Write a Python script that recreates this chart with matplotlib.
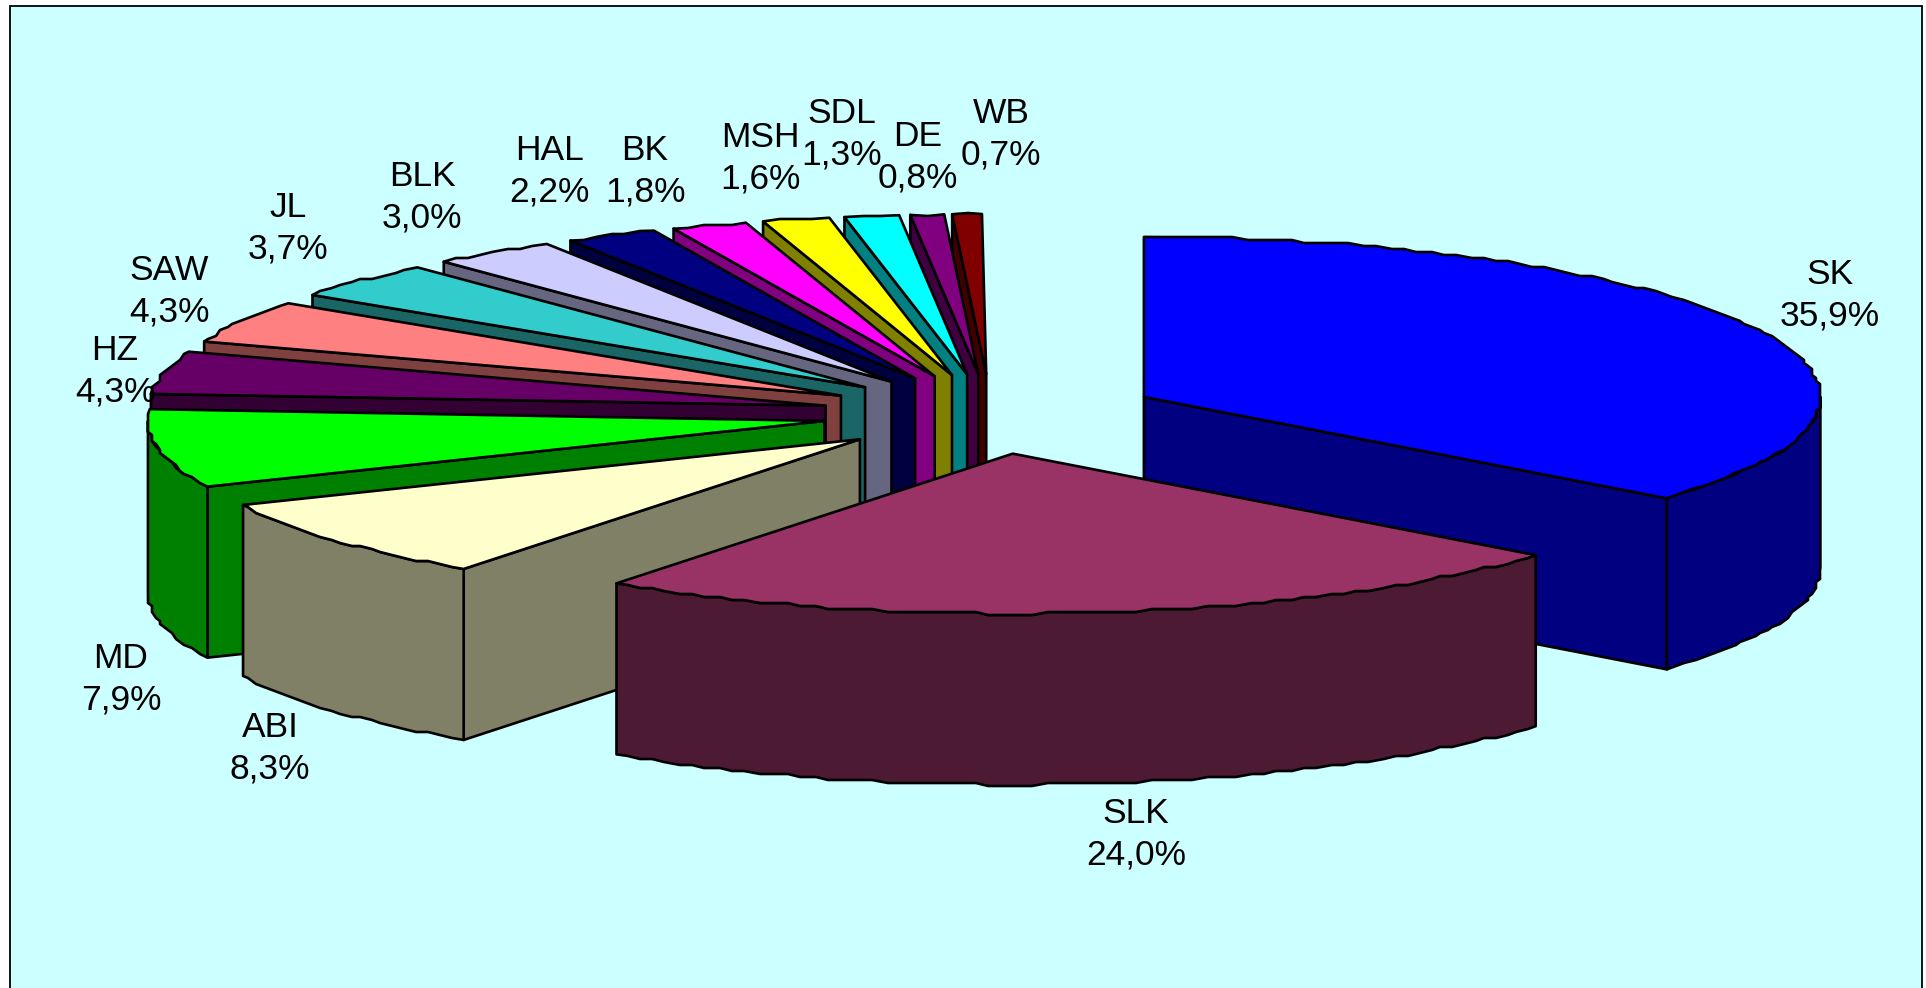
import numpy as np
import matplotlib
matplotlib.use("Agg")
import matplotlib.pyplot as plt
from matplotlib.patches import Polygon, Rectangle

labels = ["SK", "SLK", "ABI", "MD", "HZ", "SAW", "JL", "BLK", "HAL", "BK", "MSH", "SDL", "DE", "WB"]
shares = [35.9, 24.0, 8.3, 7.9, 4.3, 4.3, 3.7, 3.0, 2.2, 1.8, 1.6, 1.3, 0.8, 0.7]
colors = ["#0000FF", "#993366", "#FFFFCC", "#00FF00", "#660066", "#FF8080", "#33CCCC",
          "#CCCCFF", "#000080", "#FF00FF", "#FFFF00", "#00FFFF", "#800080", "#800000"]

# layout, in pixels of the 1926x988 picture
cx, cy = 991.0, 414.0
rx, ry = 676.5, 160.0
depth = 171.0
explode = 0.25
label_xy = [(1830, 295), (1136, 834), (270, 748), (121, 679), (115, 371), (169, 291), (288, 228),
            (422, 197), (549, 171), (645, 171), (760, 158), (842, 134), (918, 157), (1001, 134)]


def rim(a, x0, y0):
    # a in degrees, clockwise from 12 o'clock
    t = np.radians(a)
    return x0 + rx * np.sin(t), y0 - ry * np.cos(t)


def arc(a0, a1, x0, y0):
    # the old picture has a bumpy rim, so snap the inner points to a coarse grid
    n = max(int(abs(a1 - a0) / 1.25), 1)
    aa = np.linspace(a0, a1, n + 1)
    x, y = rim(aa, x0, y0)
    x[1:-1] = np.round(x[1:-1] / 4) * 4
    y[1:-1] = np.round(y[1:-1] / 3) * 3
    return np.c_[x, y]


def side_color(c):
    r, g, b = matplotlib.colors.to_rgb(c)
    return (r / 2, g / 2, b / 2)


fig = plt.figure(figsize=(19.26, 9.88), dpi=100)
ax = fig.add_axes([0, 0, 1, 1])
ax.set_xlim(0, 1926)
ax.set_ylim(988, 0)
ax.axis("off")
ax.add_patch(Rectangle((10, 6.5), 1912, 1000, fc="#CCFFFF", ec="black", lw=1.3, zorder=0))

# the rounded shares add up to 99.8, the small gap stays hidden at 12 o'clock
edges = np.cumsum([0] + shares) * 360 / 99.9
mids = (edges[:-1] + edges[1:]) / 2
order = np.argsort(-np.cos(np.radians(mids)))
lw = 1.9

z = 1
for i in order:
    a0, a1 = edges[i], edges[i + 1]
    mx, my = rim(mids[i], 0, 0)
    x0, y0 = cx + explode * mx, cy + explode * my
    dark = side_color(colors[i])
    walls = []
    # radial walls turned towards the viewer
    if a0 > 180:
        walls.append([(x0, y0), rim(a0, x0, y0), (rim(a0, x0, y0)[0], rim(a0, x0, y0)[1] + depth), (x0, y0 + depth)])
    if a1 < 180:
        walls.append([(x0, y0), rim(a1, x0, y0), (rim(a1, x0, y0)[0], rim(a1, x0, y0)[1] + depth), (x0, y0 + depth)])
    for w in walls:
        ax.add_patch(Polygon(w, closed=True, fc=dark, ec="black", lw=lw, joinstyle="round", zorder=z))
        z += 1
    # outer wall, front half only
    b0, b1 = max(a0, 90), min(a1, 270)
    if b1 > b0:
        top = arc(b0, b1, x0, y0)
        ax.add_patch(Polygon(np.r_[top, (top + [0, depth])[::-1]], closed=True, fc=dark, ec="black",
                             lw=lw, joinstyle="round", zorder=z))
        z += 1
    face = np.r_[[(x0, y0)], arc(a0, a1, x0, y0)]
    ax.add_patch(Polygon(face, closed=True, fc=colors[i], ec="black", lw=lw, joinstyle="round", zorder=z))
    z += 1

for name, share, (tx, ty) in zip(labels, shares, label_xy):
    txt = f"{name}\n{share:.1f}%".replace(".", ",")
    ax.text(tx, ty, txt, ha="center", va="center", fontsize=25.5, family="Liberation Sans",
            linespacing=1.33, color="black", zorder=z)

fig.savefig("out.png", dpi=100, facecolor="white")
